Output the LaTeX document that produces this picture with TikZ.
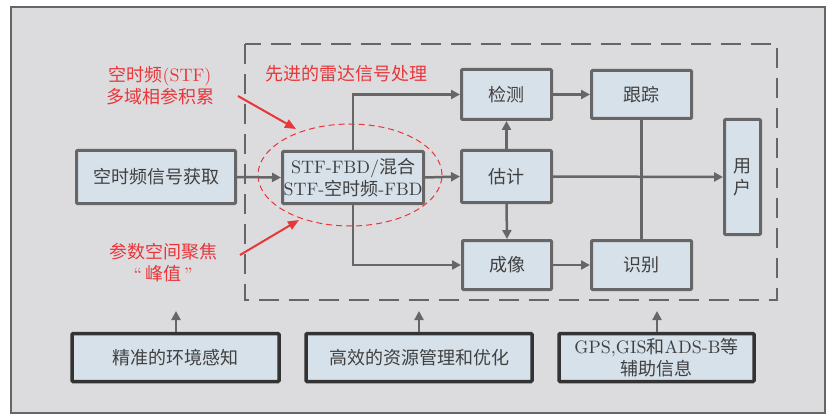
\documentclass[tikz,border=0pt]{standalone}
\usepackage{fontspec}
\setmainfont[Extension=.otf,UprightFont=*-regular,BoldFont=*-bold,ItalicFont=*-italic,BoldItalicFont=*-bolditalic]{lmroman10}
\newfontfamily\cjk{Noto Sans CJK SC}
\usetikzlibrary{arrows.meta}
\definecolor{bg}{HTML}{DCDCDE}
\definecolor{boxfill}{HTML}{D6E1EA}
\definecolor{boxline}{HTML}{666666}
\definecolor{darkline}{HTML}{333333}
\definecolor{txt}{HTML}{404040}
\definecolor{redc}{HTML}{E8363A}
\newcommand{\zh}[1]{{\cjk #1}}
\begin{document}
\begin{tikzpicture}[x=1pt,y=-1pt,
  every node/.style={font=\fontsize{18}{22}\selectfont, text=txt},
  pbox/.style={draw=boxline, line width=3pt, fill=boxfill, rounded corners=1pt, inner sep=0pt, align=center},
  bbox/.style={draw=darkline, line width=3.5pt, fill=boxfill, rounded corners=1pt, inner sep=0pt, align=center, minimum height=48pt},
  conn/.style={draw=boxline, line width=2.5pt, -{Triangle[length=9pt,width=9pt]}},
  plain/.style={draw=boxline, line width=2.5pt},
  redarrow/.style={draw=redc, line width=2pt, -{Triangle[length=11pt,width=9pt]}},
  redtext/.style={text=redc, align=center}
]
\useasboundingbox (0,0) rectangle (826,414);
% background frame
\draw[draw=boxline, line width=2pt, fill=bg] (11,7) rectangle (825,413);
% dashed processing region
\draw[draw=boxline, line width=2.5pt, dash pattern=on 20pt off 10pt] (245,44) rectangle (777,300);
% red dashed ellipse
\draw[draw=redc, line width=1pt, dash pattern=on 6pt off 4pt] (350,175) ellipse [x radius=92pt, y radius=51pt];

% nodes
\node[pbox, minimum width=159pt, minimum height=53pt] (acq) at (156,177) {\zh{空时频信号获取}};
\node[pbox, minimum width=141pt, minimum height=52pt] (stf) at (353,177.5) {STF-FBD/\zh{混合}\\STF-\zh{空时频}-FBD};
\node[pbox, minimum width=90pt, minimum height=50pt] (det) at (506.5,94.5) {\zh{检测}};
\node[pbox, minimum width=100pt, minimum height=48pt] (trk) at (641.5,94.5) {\zh{跟踪}};
\node[pbox, minimum width=90pt, minimum height=52pt] (est) at (506.5,176.5) {\zh{估计}};
\node[pbox, minimum width=36pt, minimum height=115pt] (usr) at (742.5,177) {\zh{用}\\\zh{户}};
\node[pbox, minimum width=89pt, minimum height=49pt] (img) at (507,265) {\zh{成像}};
\node[pbox, minimum width=100pt, minimum height=49pt] (rec) at (641.5,265) {\zh{识别}};

\node[bbox, minimum width=207pt] (b1) at (175.5,357.5) {\zh{精准的环境感知}};
\node[bbox, minimum width=226pt] (b2) at (419,357.5) {\zh{高效的资源管理和优化}};
\node[bbox, minimum width=195pt] (b3) at (656.5,357.5) {GPS,GIS\zh{和}ADS-B\zh{等}\\\zh{辅助信息}};

% connectors
\draw[conn] (acq.east) -- (stf.west);
\draw[conn] (stf.north) |- (det.west);
\draw[conn] (stf.south) |- (img.west);
\draw[conn] (stf.east) -- (est.west);
\draw[conn] (det.east) -- (trk.west);
\draw[conn] (est.north) -- (det.south);
\draw[conn] (est.south) -- (img.north);
\draw[conn] (est.east) -- (usr.west);
\draw[conn] (img.east) -- (rec.west);
\draw[plain] (trk.south) -- (rec.north);

\coordinate (u1) at (176,311);
\coordinate (u2) at (419,311);
\coordinate (u3) at (657,311);
\draw[conn] (b1.north -| u1) -- (u1);
\draw[conn] (b2.north -| u2) -- (u2);
\draw[conn] (b3.north -| u3) -- (u3);

% red annotations
\node[redtext] (t1) at (160,86) {\zh{空时频}(STF)\\\zh{多域相参积累}};
\node[redtext] (t2) at (163,263) {\zh{参数空间聚焦}\\``\,\zh{峰值}\,''};
\node[redtext, anchor=west] (t3) at (262,74) {\zh{先进的雷达信号处理}};
\coordinate (r1s) at (238,96);
\coordinate (r1e) at (296,129);
\coordinate (r2s) at (240,255);
\coordinate (r2e) at (299,220);
\draw[redarrow] (r1s) -- (r1e);
\draw[redarrow] (r2s) -- (r2e);
\end{tikzpicture}
\end{document}
